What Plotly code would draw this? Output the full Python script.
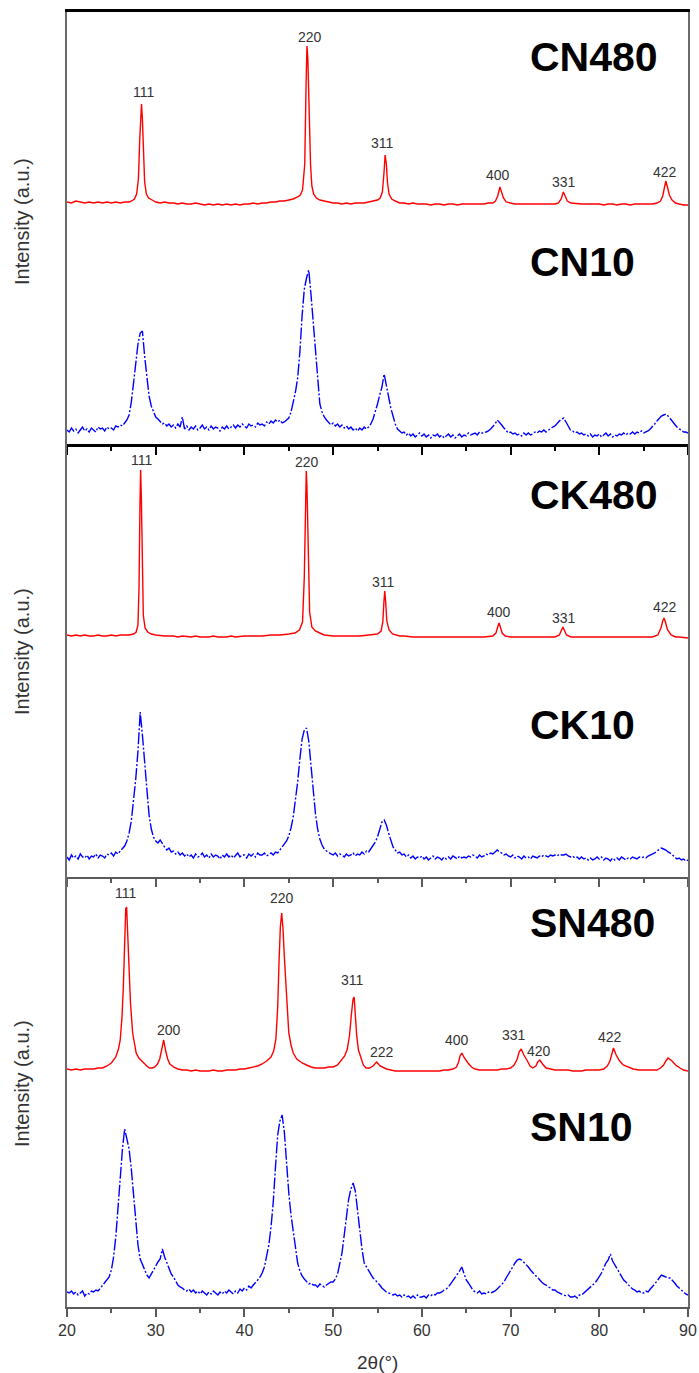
import plotly.graph_objects as go

# ---------------- data (intensity in a.u.) ----------------
BLUE_2THETA = [
    20.0, 20.25, 20.5, 20.75, 21.0, 21.25, 21.5, 21.75, 22.0, 22.25, 22.5, 22.75,
    23.0, 23.25, 23.5, 23.75, 24.0, 24.25, 24.5, 24.75, 25.0, 25.25, 25.5, 25.75,
    26.0, 26.25, 26.5, 26.75, 27.0, 27.25, 27.5, 27.75, 28.0, 28.25, 28.5, 28.75,
    29.0, 29.25, 29.5, 29.75, 30.0, 30.25, 30.5, 30.75, 31.0, 31.25, 31.5, 31.75,
    32.0, 32.25, 32.5, 32.75, 33.0, 33.25, 33.5, 33.75, 34.0, 34.25, 34.5, 34.75,
    35.0, 35.25, 35.5, 35.75, 36.0, 36.25, 36.5, 36.75, 37.0, 37.25, 37.5, 37.75,
    38.0, 38.25, 38.5, 38.75, 39.0, 39.25, 39.5, 39.75, 40.0, 40.25, 40.5, 40.75,
    41.0, 41.25, 41.5, 41.75, 42.0, 42.25, 42.5, 42.75, 43.0, 43.25, 43.5, 43.75,
    44.0, 44.25, 44.5, 44.75, 45.0, 45.25, 45.5, 45.75, 46.0, 46.25, 46.5, 46.75,
    47.0, 47.25, 47.5, 47.75, 48.0, 48.25, 48.5, 48.75, 49.0, 49.25, 49.5, 49.75,
    50.0, 50.25, 50.5, 50.75, 51.0, 51.25, 51.5, 51.75, 52.0, 52.25, 52.5, 52.75,
    53.0, 53.25, 53.5, 53.75, 54.0, 54.25, 54.5, 54.75, 55.0, 55.25, 55.5, 55.75,
    56.0, 56.25, 56.5, 56.75, 57.0, 57.25, 57.5, 57.75, 58.0, 58.25, 58.5, 58.75,
    59.0, 59.25, 59.5, 59.75, 60.0, 60.25, 60.5, 60.75, 61.0, 61.25, 61.5, 61.75,
    62.0, 62.25, 62.5, 62.75, 63.0, 63.25, 63.5, 63.75, 64.0, 64.25, 64.5, 64.75,
    65.0, 65.25, 65.5, 65.75, 66.0, 66.25, 66.5, 66.75, 67.0, 67.25, 67.5, 67.75,
    68.0, 68.25, 68.5, 68.75, 69.0, 69.25, 69.5, 69.75, 70.0, 70.25, 70.5, 70.75,
    71.0, 71.25, 71.5, 71.75, 72.0, 72.25, 72.5, 72.75, 73.0, 73.25, 73.5, 73.75,
    74.0, 74.25, 74.5, 74.75, 75.0, 75.25, 75.5, 75.75, 76.0, 76.25, 76.5, 76.75,
    77.0, 77.25, 77.5, 77.75, 78.0, 78.25, 78.5, 78.75, 79.0, 79.25, 79.5, 79.75,
    80.0, 80.25, 80.5, 80.75, 81.0, 81.25, 81.5, 81.75, 82.0, 82.25, 82.5, 82.75,
    83.0, 83.25, 83.5, 83.75, 84.0, 84.25, 84.5, 84.75, 85.0, 85.25, 85.5, 85.75,
    86.0, 86.25, 86.5, 86.75, 87.0, 87.25, 87.5, 87.75, 88.0, 88.25, 88.5, 88.75,
    89.0, 89.25, 89.5, 89.75, 90.0,
]

CN10 = [
    14, 12, 16, 13, 15, 11, 14, 17, 13, 15, 12, 16, 14, 12, 17, 15, 16, 13, 17, 15,
    16, 14, 18, 17, 19, 18, 21, 24, 29, 42, 61, 82, 100, 111, 113, 88, 66, 48, 38, 32,
    27, 25, 22, 20, 21, 18, 20, 17, 19, 16, 20, 17, 27, 15, 18, 14, 17, 15, 18, 14,
    16, 19, 15, 17, 14, 18, 15, 17, 16, 13, 17, 15, 18, 15, 17, 19, 16, 19, 17, 20,
    18, 16, 20, 18, 19, 17, 21, 19, 20, 18, 22, 20, 23, 21, 24, 22, 24, 21, 22, 24,
    26, 32, 41, 52, 66, 92, 128, 155, 166, 174, 150, 122, 97, 62, 40, 32, 27, 24, 22, 19,
    21, 18, 20, 17, 19, 16, 18, 15, 17, 14, 16, 13, 16, 14, 17, 15, 17, 20, 25, 32,
    40, 49, 57, 70, 58, 48, 36, 28, 20, 15, 13, 11, 12, 9, 11, 8, 10, 7, 9, 11,
    8, 10, 7, 9, 6, 9, 8, 10, 7, 9, 6, 8, 10, 7, 9, 6, 8, 10, 7, 9,
    8, 11, 9, 10, 11, 9, 12, 11, 11, 12, 13, 15, 17, 20, 24, 22, 19, 16, 13, 11,
    12, 10, 11, 9, 10, 8, 11, 9, 11, 9, 10, 12, 11, 13, 12, 14, 12, 14, 15, 17,
    18, 21, 23, 25, 26, 22, 18, 14, 13, 11, 12, 10, 11, 9, 10, 8, 10, 7, 9, 8,
    10, 7, 9, 11, 8, 10, 7, 9, 8, 10, 9, 11, 9, 11, 10, 12, 10, 12, 11, 13,
    11, 12, 13, 15, 17, 20, 23, 26, 28, 29, 30, 28, 25, 22, 19, 17, 15, 14, 12, 12,
    11,
]

CK10 = [
    20, 17, 22, 19, 21, 18, 23, 20, 19, 22, 18, 21, 20, 23, 19, 22, 21, 19, 23, 22,
    24, 21, 25, 23, 26, 28, 31, 36, 44, 56, 74, 98, 126, 165, 142, 118, 86, 62, 48, 40,
    36, 34, 37, 33, 30, 27, 29, 25, 26, 23, 25, 22, 24, 21, 23, 20, 22, 19, 23, 20,
    21, 24, 20, 22, 19, 23, 20, 22, 21, 18, 22, 20, 23, 20, 22, 19, 21, 24, 20, 22,
    22, 19, 23, 21, 23, 20, 24, 22, 22, 24, 21, 23, 24, 22, 25, 24, 27, 29, 32, 36,
    41, 49, 60, 75, 95, 118, 138, 147, 149, 136, 112, 86, 64, 48, 38, 32, 28, 26, 24, 23,
    22, 24, 21, 23, 22, 20, 23, 21, 22, 24, 21, 23, 22, 25, 23, 26, 25, 28, 31, 35,
    40, 48, 55, 57, 52, 44, 36, 30, 27, 24, 25, 22, 23, 20, 22, 19, 21, 18, 20, 19,
    21, 18, 20, 17, 19, 21, 18, 20, 19, 17, 20, 18, 20, 18, 21, 19, 18, 21, 19, 20,
    19, 21, 20, 22, 21, 19, 22, 20, 21, 23, 22, 24, 23, 25, 27, 25, 24, 22, 23, 21,
    20, 22, 19, 21, 20, 18, 21, 19, 20, 18, 21, 20, 19, 21, 20, 22, 21, 20, 22, 21,
    22, 21, 23, 22, 22, 23, 21, 20, 21, 19, 20, 18, 20, 18, 19, 17, 19, 17, 18, 20,
    18, 20, 17, 19, 18, 16, 19, 17, 19, 17, 20, 18, 17, 19, 18, 20, 19, 18, 20, 19,
    20, 19, 21, 22, 23, 24, 26, 28, 29, 28, 27, 25, 24, 22, 20, 18, 19, 17, 18, 16,
    17,
]

SN10 = [
    15, 14, 16, 13, 15, 12, 14, 16, 11, 14, 13, 16, 15, 17, 16, 19, 21, 24, 27, 30,
    37, 50, 70, 100, 132, 158, 178, 168, 158, 138, 112, 86, 62, 48, 42, 36, 32, 29, 33, 38,
    42, 45, 48, 58, 50, 44, 38, 33, 30, 26, 22, 20, 19, 17, 16, 18, 15, 17, 14, 16,
    13, 16, 14, 12, 15, 13, 16, 14, 12, 15, 13, 16, 14, 17, 15, 13, 16, 14, 18, 16,
    19, 17, 21, 19, 22, 24, 27, 30, 34, 40, 50, 62, 80, 105, 140, 172, 186, 192, 175, 142,
    114, 92, 74, 58, 44, 36, 31, 28, 25, 23, 24, 22, 22, 20, 23, 21, 20, 22, 24, 25,
    25, 28, 33, 42, 54, 72, 90, 108, 118, 124, 116, 96, 74, 58, 44, 40, 37, 33, 29, 27,
    25, 22, 19, 17, 15, 14, 13, 12, 13, 11, 12, 10, 12, 10, 11, 9, 11, 9, 12, 10,
    10, 11, 9, 12, 11, 13, 12, 14, 14, 15, 17, 18, 20, 23, 26, 30, 32, 36, 40, 33,
    27, 24, 20, 17, 15, 14, 16, 13, 14, 13, 15, 14, 15, 16, 18, 20, 22, 25, 29, 33,
    37, 41, 44, 47, 48, 47, 45, 43, 40, 37, 34, 32, 30, 27, 25, 23, 22, 20, 19, 17,
    17, 15, 14, 13, 12, 11, 12, 10, 10, 11, 9, 12, 12, 14, 15, 17, 19, 22, 24, 27,
    30, 34, 39, 44, 47, 53, 46, 42, 39, 35, 31, 27, 25, 22, 20, 18, 17, 15, 16, 14,
    14, 16, 15, 18, 20, 23, 26, 29, 32, 31, 30, 29, 29, 27, 24, 21, 19, 16, 14, 13,
    12,
]

CN480_2THETA = [
    20.0, 20.5, 21.0, 21.5, 22.0, 22.5, 23.0, 23.5, 24.0, 24.5, 25.0, 25.5, 26.0, 26.5,
    27.0, 27.3, 27.6, 27.85, 28.05, 28.2, 28.3, 28.4, 28.5, 28.6, 28.75, 28.95, 29.2, 29.6,
    30.0, 30.5, 31.0, 31.5, 32.0, 32.5, 33.0, 33.5, 34.0, 34.5, 35.0, 35.5, 36.0, 36.5,
    37.0, 37.5, 38.0, 38.5, 39.0, 39.5, 40.0, 40.5, 41.0, 41.5, 42.0, 42.5, 43.0, 43.5,
    44.0, 44.5, 45.0, 45.5, 46.0, 46.3, 46.55, 46.8, 46.95, 47.05, 47.15, 47.3, 47.45,
    47.6, 47.8, 48.1, 48.5, 49.0, 49.5, 50.0, 50.5, 51.0, 51.5, 52.0, 52.5, 53.0, 53.5,
    54.0, 54.5, 55.0, 55.3, 55.55, 55.72, 55.86, 56.0, 56.12, 56.3, 56.6, 57.0, 57.5,
    58.0, 58.5, 59.0, 59.5, 60.0, 60.5, 61.0, 61.5, 62.0, 62.5, 63.0, 63.5, 64.0, 64.5,
    65.0, 65.5, 66.0, 66.5, 67.0, 67.5, 68.0, 68.3, 68.55, 68.8, 69.0, 69.2, 69.5, 70.0,
    70.5, 71.0, 71.5, 72.0, 72.5, 73.0, 73.5, 74.0, 74.5, 75.0, 75.4, 75.7, 75.95, 76.15,
    76.4, 76.8, 77.5, 78.0, 78.5, 79.0, 79.5, 80.0, 80.5, 81.0, 81.5, 82.0, 82.5, 83.0,
    83.5, 84.0, 84.5, 85.0, 85.5, 86.0, 86.5, 86.9, 87.15, 87.35, 87.5, 87.68, 87.9, 88.2,
    88.6, 89.0, 89.5, 90.0,
]
CN480 = [
    242, 241, 243, 242, 241, 242, 241, 242, 241, 242, 241, 242, 241, 242,
    242, 243, 245, 250, 265, 305, 335, 340, 325, 290, 262, 250, 246, 244,
    242, 241, 242, 241, 241, 240, 241, 240, 240, 241, 240, 239, 240, 239,
    240, 239, 240, 239, 240, 239, 240, 240, 241, 240, 241, 241, 242, 242,
    243, 243, 244, 245, 247, 249, 254, 280, 360, 398, 385, 330, 280,
    258, 250, 246, 244, 243, 242, 241, 241, 240, 241, 240, 241, 241, 241,
    242, 243, 244, 246, 252, 270, 289, 280, 262, 250, 245, 243, 241,
    241, 240, 241, 240, 240, 240, 239, 240, 240, 239, 240, 240, 239, 240,
    240, 240, 240, 240, 240, 241, 241, 243, 248, 257, 252, 246, 242, 241,
    240, 240, 240, 240, 240, 240, 240, 240, 240, 240, 241, 245, 252, 248,
    243, 241, 240, 240, 240, 240, 240, 240, 239, 240, 240, 239, 240, 240,
    239, 240, 240, 240, 240, 240, 241, 243, 248, 257, 263, 257, 249, 244,
    241, 240, 239, 239,
]

CK480_2THETA = [
    20.0, 20.5, 21.0, 21.5, 22.0, 22.5, 23.0, 23.5, 24.0, 24.5, 25.0, 25.5, 26.0, 26.5,
    27.0, 27.5, 27.8, 28.0, 28.12, 28.22, 28.3, 28.38, 28.48, 28.6, 28.8, 29.1, 29.5,
    30.0, 31.0, 32.0, 32.5, 33.0, 34.0, 34.5, 35.0, 36.0, 36.5, 37.0, 38.0, 38.5, 39.0,
    40.0, 41.0, 42.0, 43.0, 44.0, 45.0, 45.7, 46.2, 46.55, 46.75, 46.88, 46.97, 47.05,
    47.18, 47.35, 47.6, 48.0, 48.5, 49.0, 50.0, 51.0, 52.0, 53.0, 54.0, 55.0, 55.4, 55.6,
    55.72, 55.82, 55.92, 56.05, 56.3, 56.7, 57.5, 58.0, 59.0, 60.0, 61.0, 62.0, 63.0,
    64.0, 65.0, 66.0, 67.0, 68.0, 68.35, 68.55, 68.7, 68.85, 69.05, 69.4, 70.0, 71.0,
    72.0, 73.0, 74.0, 75.0, 75.5, 75.75, 75.9, 76.05, 76.3, 76.8, 78.0, 79.0, 80.0,
    81.0, 82.0, 83.0, 84.0, 85.0, 86.0, 86.6, 86.95, 87.15, 87.3, 87.45, 87.7, 88.1,
    88.6, 89.0, 90.0,
]
CK480 = [
    242, 241, 242, 241, 242, 241, 241, 242, 241, 241, 242, 241, 242, 242,
    242, 243, 245, 252, 290, 370, 407, 380, 310, 262, 249, 245, 243,
    242, 241, 241, 240, 241, 240, 241, 240, 240, 241, 240, 240, 241, 240,
    241, 241, 241, 242, 242, 243, 244, 247, 255, 300, 380, 406, 390,
    320, 265, 250, 246, 244, 242, 241, 241, 241, 241, 242, 243, 246, 255,
    275, 286, 275, 256, 247, 243, 241, 241, 240, 240, 240, 240, 240,
    240, 240, 240, 240, 241, 244, 250, 254, 250, 244, 241, 240, 240,
    240, 240, 240, 240, 242, 247, 250, 247, 242, 240, 240, 240, 240,
    240, 240, 240, 240, 240, 240, 242, 249, 256, 259, 255, 247, 242,
    240, 240, 239,
]

SN480_2THETA = [
    20.0, 20.5, 21.0, 21.5, 22.0, 22.5, 23.0, 23.5, 24.0, 24.5, 25.0, 25.5, 25.8, 26.0,
    26.2, 26.35, 26.5, 26.62, 26.72, 26.85, 27.0, 27.15, 27.4, 27.6, 27.8, 28.1, 28.5,
    29.0, 29.3, 29.6, 29.9, 30.2, 30.45, 30.7, 30.9, 31.1, 31.35, 31.6, 32.0, 32.5, 33.0,
    33.5, 34.0, 34.5, 35.0, 35.5, 36.0, 36.5, 37.0, 37.5, 38.0, 38.5, 39.0, 39.5, 40.0,
    40.5, 41.0, 41.5, 42.0, 42.5, 43.0, 43.3, 43.55, 43.75, 43.9, 44.05, 44.2, 44.35,
    44.5, 44.7, 44.85, 45.0, 45.25, 45.5, 45.9, 46.5, 47.0, 47.5, 48.0, 48.5, 49.0, 49.5,
    50.0, 50.5, 51.0, 51.3, 51.6, 51.85, 52.05, 52.25, 52.37, 52.5, 52.65, 52.85, 53.1,
    53.4, 53.7, 54.1, 54.5, 54.9, 55.3, 55.7, 56.0, 56.5, 57.0, 57.5, 58.0, 58.5, 59.0,
    59.5, 60.0, 60.5, 61.0, 61.5, 62.0, 62.5, 63.0, 63.5, 63.9, 64.15, 64.3, 64.5, 64.8,
    65.2, 65.6, 66.0, 66.5, 67.0, 67.5, 68.0, 68.5, 69.0, 69.5, 70.0, 70.4, 70.75, 70.96,
    71.2, 71.5, 71.9, 72.2, 72.5, 72.85, 73.06, 73.3, 73.6, 74.0, 74.5, 75.0, 75.5, 76.0,
    76.5, 77.0, 77.5, 78.0, 78.5, 79.0, 79.5, 80.0, 80.5, 80.9, 81.2, 81.4, 81.6, 81.9,
    82.3, 82.7, 83.2, 83.8, 84.5, 85.0, 85.5, 86.0, 86.5, 86.9, 87.25, 87.5, 87.75, 88.2,
    88.6, 89.1, 89.5, 90.0,
]
SN480 = [
    238, 237, 238, 237, 238, 238, 238, 239, 239, 241, 244, 250, 258, 267,
    290, 320, 370, 398, 400, 375, 335, 305, 274, 262, 254, 249, 245,
    241, 239, 239, 240, 243, 248, 257, 267, 257, 248, 243, 240, 238, 237,
    237, 236, 237, 236, 236, 236, 237, 236, 236, 237, 237, 237, 238, 238,
    239, 240, 241, 243, 246, 250, 256, 268, 300, 345, 380, 394, 378,
    350, 314, 290, 274, 262, 254, 248, 244, 242, 240, 239, 239, 239, 240,
    240, 242, 247, 251, 258, 272, 292, 308, 310, 292, 272, 257, 249,
    242, 239, 239, 241, 245, 241, 239, 238, 237, 236, 236, 236, 236, 236,
    236, 236, 236, 236, 236, 236, 237, 237, 238, 240, 245, 251, 254, 249, 244,
    240, 238, 237, 237, 237, 237, 237, 238, 238, 239, 242, 248, 255, 258,
    252, 246, 241, 239, 241, 245, 247, 243, 239, 238, 237, 237, 237, 237,
    236, 236, 236, 237, 237, 237, 237, 238, 241, 246, 253, 259, 252, 246,
    242, 240, 238, 237, 237, 237, 237, 237, 239, 242, 246, 249, 246, 242,
    239, 237, 236, 236,
]

SAMPLE_TOP = ["CN480", "CK480", "SN480"]
SAMPLE_BOTTOM = ["CN10", "CK10", "SN10"]

CN480_HKL = ["111", "220", "311", "400", "331", "422"]
CN480_HKL_X = [28.6, 47.38, 55.58, 68.63, 76.0, 87.46]
CN480_HKL_Y = [352, 407, 301, 269, 262, 272]

CK480_HKL = ["111", "220", "311", "400", "331", "422"]
CK480_HKL_X = [28.4, 47.1, 55.7, 68.75, 76.0, 87.4]
CK480_HKL_Y = [417, 415, 295, 265, 259, 270]

SN480_HKL = ["111", "200", "220", "311", "222", "400", "331", "420", "422"]
SN480_HKL_X = [26.57, 31.53, 44.26, 52.2, 55.5, 63.95, 70.4, 73.2, 81.17]
SN480_HKL_Y = [414, 277, 409, 327, 255, 267, 272, 256, 270]

X_TICKS = [20, 30, 40, 50, 60, 70, 80, 90]
X_MINOR = [25, 35, 45, 55, 65, 75, 85]
X_TITLE = "2θ(°)"
Y_TITLE = "Intensity (a.u.)"

# ---------------- figure ----------------
FONT = "Liberation Sans, Arial, sans-serif"
W, H = 699, 1373
ML, MR, MT, MB = 67, 11, 12, 66
PH = H - MT - MB  # plot height in px
BOUNDS = [(12, 444), (444, 877), (877, 1307)]


def py2paper(py):
    return (H - MB - py) / PH


def px2paper(px):
    return (px - ML) / (W - ML - MR)


fig = go.Figure()

panels = [
    (CN480_2THETA, CN480, CN10, CN480_HKL, CN480_HKL_X, CN480_HKL_Y),
    (CK480_2THETA, CK480, CK10, CK480_HKL, CK480_HKL_X, CK480_HKL_Y),
    (SN480_2THETA, SN480, SN10, SN480_HKL, SN480_HKL_X, SN480_HKL_Y),
]

name_y = [(387, 182), (382, 152), (384, 180)]
ytitle_center = [222, 652, 1084]

annotations = []
for i, (rx, ry, by, hkl, hx, hy) in enumerate(panels):
    n = i + 1
    xa = "x" if n == 1 else f"x{n}"
    ya = "y" if n == 1 else f"y{n}"
    fig.add_trace(go.Scatter(x=BLUE_2THETA, y=by, xaxis=xa, yaxis=ya, mode="lines",
                             line=dict(color="#0000ff", width=1.4, dash="12px,2px,2px,2px"),
                             showlegend=False, hoverinfo="skip"))
    fig.add_trace(go.Scatter(x=rx, y=ry, xaxis=xa, yaxis=ya, mode="lines",
                             line=dict(color="#ff0000", width=1.4),
                             showlegend=False, hoverinfo="skip"))
    top, bot = BOUNDS[i]
    dom = [py2paper(bot), py2paper(top)]
    is_bottom = (n == 3)
    is_top = (n == 1)
    lc = "#000000" if is_top else "#5a5a5a"
    xaxis = dict(
        domain=[0, 1], anchor=ya, range=[20, 90], automargin=False,
        showline=True, linewidth=2.5 if is_top else 2, linecolor=lc,
        mirror=is_top,
        ticks="outside", ticklen=8, tickwidth=1.5, tickcolor=lc,
        tickmode="array", tickvals=X_TICKS,
        minor=dict(tickmode="array", tickvals=X_MINOR,
                   ticks="outside", ticklen=4, tickwidth=1.5, tickcolor=lc),
        showticklabels=is_bottom,
        tickfont=dict(family=FONT, size=16, color="#333333"),
        showgrid=False, zeroline=False, fixedrange=True,
    )
    yaxis = dict(
        domain=dom, anchor=xa, range=[0, bot - top], automargin=False,
        showline=True, linewidth=2, linecolor="#6b6b6b", mirror=True,
        ticks="", showticklabels=False, showgrid=False, zeroline=False,
        fixedrange=True,
    )
    key = "" if n == 1 else str(n)
    fig.update_layout(**{f"xaxis{key}": xaxis, f"yaxis{key}": yaxis})

    for t, x, y in zip(hkl, hx, hy):
        annotations.append(dict(x=x, y=y, xref=xa, yref=ya, text=t, showarrow=False,
                                xanchor="center", yanchor="middle",
                                font=dict(family=FONT, size=14, color="#333333")))
    annotations.append(dict(x=72.0, y=name_y[i][0], xref=xa, yref=ya,
                            text=f"<b>{SAMPLE_TOP[i]}</b>", showarrow=False,
                            xanchor="left", yanchor="middle",
                            font=dict(family=FONT, size=41, color="#000000")))
    annotations.append(dict(x=72.0, y=name_y[i][1], xref=xa, yref=ya,
                            text=f"<b>{SAMPLE_BOTTOM[i]}</b>", showarrow=False,
                            xanchor="left", yanchor="middle",
                            font=dict(family=FONT, size=41, color="#000000")))
    annotations.append(dict(x=px2paper(22), y=py2paper(ytitle_center[i]),
                            xref="paper", yref="paper", text=Y_TITLE, textangle=-90,
                            showarrow=False, xanchor="center", yanchor="middle",
                            font=dict(family=FONT, size=20, color="#333333")))

annotations.append(dict(x=px2paper(377), y=py2paper(1362), xref="paper", yref="paper",
                        text=X_TITLE, showarrow=False, xanchor="center", yanchor="middle",
                        font=dict(family=FONT, size=19, color="#333333")))

fig.update_layout(
    width=W, height=H,
    margin=dict(l=ML, r=MR, t=MT, b=MB, autoexpand=False),
    paper_bgcolor="white", plot_bgcolor="white",
    annotations=annotations,
    showlegend=False,
)

fig.write_html("out.html")
